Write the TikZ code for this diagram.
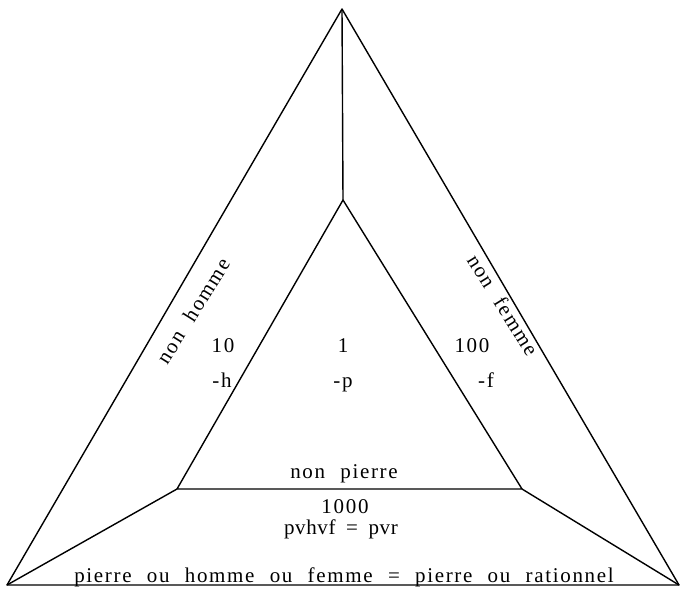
\documentclass[tikz,border=0pt]{standalone}
\usepackage{fontspec}
\setmainfont{Liberation Serif}[LetterSpace=8,WordSpace=2.2]
\newfontfamily\pvfont{Liberation Serif}[LetterSpace=3,WordSpace=1.8]
\begin{document}
\begin{tikzpicture}[x=1pt,y=-1pt,
  edge/.style={line width=1.4pt,line join=round},
  lbl/.style={inner sep=0pt,anchor=base,font=\fontsize{21}{24}\selectfont}]
\useasboundingbox (0,0) rectangle (685,589);
\coordinate (T) at (342,9);
\coordinate (L) at (7,585);
\coordinate (R) at (679,585);
\coordinate (t) at (343,200);
\coordinate (l) at (177,489);
\coordinate (r) at (522,489);
\draw[edge] (T) -- (L) -- (R) -- cycle;
\draw[edge] (t) -- (l) -- (r) -- cycle;
\draw[edge] (T) -- (t);
\draw[edge] (L) -- (l);
\draw[edge] (R) -- (r);
\node[lbl,anchor=center,rotate=58] (nh) at (193,311) {non homme};
\node[lbl,anchor=center,rotate=-58] (nf) at (503,305) {non femme};
\node[lbl] (n10) at (223,352) {10};
\node[lbl] (n1) at (343,352) {1};
\node[lbl] (n100) at (472,352) {100};
\node[lbl] (mh) at (222,387) {-h};
\node[lbl] (mp) at (343,387) {-p};
\node[lbl] (mf) at (486,387) {-f};
\node[lbl] (np) at (344,478) {non pierre};
\node[lbl] (n1000) at (345,513) {1000};
\node[lbl,font=\fontsize{21}{24}\pvfont] (pv) at (341,534) {pvhvf = pvr};
\node[lbl] (bot) at (344,582) {pierre ou homme ou femme = pierre ou rationnel};
\end{tikzpicture}
\end{document}
